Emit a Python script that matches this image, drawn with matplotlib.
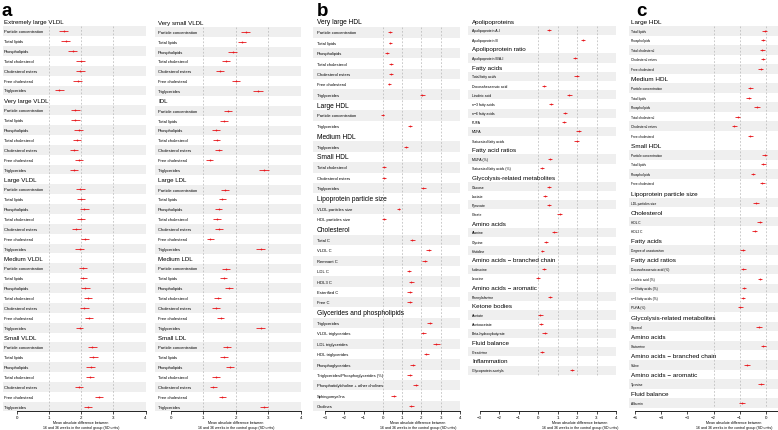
import matplotlib
matplotlib.use("Agg")
import matplotlib.pyplot as plt

plt.rcParams["font.family"] = ["Liberation Sans", "DejaVu Sans"]

# --- data (mean absolute difference, SD units; err = half CI width) ---
lipid_rows = ["Particle concentration", "Total lipids", "Phospholipids", "Total cholesterol",
              "Cholesterol esters", "Free cholesterol", "Triglycerides"]

# panel a, left column
a1_groups = ["Extremely large VLDL", "Very large VLDL", "Large VLDL", "Medium VLDL", "Small VLDL"]
a1_sizes = [7, 7, 7, 7, 7]
a1_rows = lipid_rows * 5
a1_mean = [1.46, 1.52, 1.74, 1.99, 1.97, 1.89, 1.32,
           1.82, 1.82, 1.92, 1.88, 1.78, 1.94, 1.77,
           1.97, 1.99, 2.10, 2.00, 1.85, 2.12, 1.95,
           2.05, 2.07, 2.13, 2.22, 2.10, 2.25, 1.95,
           2.34, 2.38, 2.30, 2.27, 1.94, 2.56, 2.20]
a1_err = [0.14, 0.14, 0.14, 0.14, 0.14, 0.13, 0.14,
          0.14, 0.13, 0.14, 0.12, 0.13, 0.13, 0.13,
          0.14, 0.13, 0.13, 0.13, 0.13, 0.13, 0.13,
          0.12, 0.11, 0.13, 0.13, 0.13, 0.13, 0.12,
          0.14, 0.14, 0.14, 0.12, 0.12, 0.13, 0.12]

# panel a, right column
a2_groups = ["Very small VLDL", "IDL", "Large LDL", "Medium LDL", "Small LDL"]
a2_sizes = [7, 7, 7, 7, 7]
a2_rows = lipid_rows * 5
a2_mean = [2.30, 2.18, 1.90, 1.71, 1.51, 2.00, 2.68,
           1.76, 1.64, 1.38, 1.41, 1.48, 1.20, 2.87,
           1.68, 1.59, 1.47, 1.42, 1.48, 1.22, 2.77,
           1.69, 1.63, 1.80, 1.44, 1.39, 1.53, 2.77,
           1.73, 1.64, 1.83, 1.39, 1.31, 1.59, 2.87]
a2_err = [0.13, 0.12, 0.13, 0.12, 0.12, 0.12, 0.15,
          0.12, 0.12, 0.12, 0.11, 0.11, 0.10, 0.15,
          0.12, 0.12, 0.12, 0.12, 0.12, 0.10, 0.14,
          0.12, 0.11, 0.12, 0.11, 0.11, 0.11, 0.14,
          0.12, 0.12, 0.12, 0.11, 0.11, 0.11, 0.13]

# panel b, left column
b1_groups = ["Very large HDL", "Large HDL", "Medium HDL", "Small HDL",
             "Lipoprotein particle size", "Cholesterol", "Glycerides and phospholipids"]
b1_sizes = [7, 2, 1, 3, 2, 7, 9]
b1_rows = lipid_rows + [
    "Particle concentration", "Triglycerides",
    "Triglycerides",
    "Total cholesterol", "Cholesterol esters", "Triglycerides",
    "VLDL particles size", "HDL particles size",
    "Total C", "VLDL C", "Remnant C", "LDL C", "HDL3 C", "Esterified C", "Free C",
    "Triglycerides", "VLDL triglycerides", "LDL triglycerides", "HDL triglycerides",
    "Phosphoglycerides", "Triglycerides/Phosphoglycerides (%)",
    "Phosphatidylcholine + other cholines", "Sphingomyelins", "Cholines"]
b1_mean = [0.38, 0.38, 0.21, 0.41, 0.43, 0.34, 2.05,
           -0.02, 1.40,
           1.19,
           0.05, 0.05, 2.10,
           0.81, 0.07,
           1.52, 2.38, 2.16, 1.36, 1.48, 1.38, 1.38,
           2.43, 2.09, 2.78, 2.26, 1.55, 1.38, 1.71, 0.55, 1.48]
b1_err = [0.10, 0.09, 0.09, 0.10, 0.10, 0.10, 0.12,
          0.09, 0.12,
          0.12,
          0.12, 0.10, 0.13,
          0.10, 0.10,
          0.13, 0.13, 0.13, 0.12, 0.12, 0.12, 0.14,
          0.14, 0.12, 0.16, 0.13, 0.13, 0.12, 0.13, 0.13, 0.14]

# panel b, right column
b2_groups = ["Apolipoproteins", "Apolipoprotein ratio", "Fatty acids", "Fatty acid ratios",
             "Glycolysis-related metabolites", "Amino acids", "Amino acids \u2212 branched chain",
             "Amino acids \u2212 aromatic", "Ketone bodies", "Fluid balance", "Inflammation"]
b2_sizes = [2, 1, 8, 2, 4, 3, 2, 1, 3, 1, 1]
b2_rows = ["Apolipoprotein A-I", "Apolipoprotein B",
           "Apolipoprotein B/A-I",
           "Total fatty acids", "Docosahexaenoic acid", "Linoleic acid", "n\u22123 fatty acids",
           "n\u22126 fatty acids", "PUFA", "MUFA", "Saturated fatty acids",
           "MUFA (%)", "Saturated fatty acids (%)",
           "Glucose", "Lactate", "Pyruvate", "Citrate",
           "Alanine", "Glycine", "Histidine",
           "Isoleucine", "Leucine",
           "Phenylalanine",
           "Acetate", "Acetoacetate", "Beta-hydroxybutyrate",
           "Creatinine",
           "Glycoprotein acetyls"]
b2_mean = [0.58, 2.29,
           1.90,
           1.98, 0.31, 1.61, 0.68, 1.40, 1.32, 2.09, 1.98,
           0.62, 0.19,
           0.56, 0.38, 0.58, 1.11,
           0.84, 0.39, 0.22,
           0.32, 0.00,
           0.60,
           0.12, 0.15, 0.34,
           0.19,
           1.74]
b2_err = [0.11, 0.11,
          0.12,
          0.13, 0.11, 0.12, 0.11, 0.11, 0.11, 0.12, 0.12,
          0.10, 0.11,
          0.12, 0.10, 0.11, 0.12,
          0.11, 0.10, 0.09,
          0.10, 0.08,
          0.11,
          0.12, 0.10, 0.11,
          0.10,
          0.12]

# panel c
c_groups = ["Large HDL", "Medium HDL", "Small HDL", "Lipoprotein particle size", "Cholesterol",
            "Fatty acids", "Fatty acid ratios", "Glycolysis-related metabolites", "Amino acids",
            "Amino acids \u2212 branched chain", "Amino acids \u2212 aromatic", "Fluid balance"]
c_sizes = [5, 6, 4, 1, 2, 1, 5, 1, 1, 1, 1, 1]
c_rows = ["Total lipids", "Phospholipids", "Total cholesterol", "Cholesterol esters", "Free cholesterol",
          "Particle concentration", "Total lipids", "Phospholipids", "Total cholesterol",
          "Cholesterol esters", "Free cholesterol",
          "Particle concentration", "Total lipids", "Phospholipids", "Free cholesterol",
          "LDL particles size",
          "HDL C", "HDL2 C",
          "Degree of unsaturation",
          "Docosahexaenoic acid (%)", "Linoleic acid (%)", "n\u22123 fatty acids (%)",
          "n\u22126 fatty acids (%)", "PUFA (%)",
          "Glycerol", "Glutamine", "Valine", "Tyrosine", "Albumin"]
c_mean = [-0.04, -0.11, -0.13, -0.11, -0.19,
          -0.59, -0.65, -0.34, -1.07, -1.20, -0.59,
          -0.04, -0.10, -0.49, -0.14,
          -0.38,
          -0.24, -0.42,
          -0.89,
          -0.86, -0.22, -0.84, -0.87, -0.98,
          -0.26, -0.10, -0.72, -0.18, -0.91]
c_err = [0.10, 0.09, 0.09, 0.09, 0.10,
         0.10, 0.10, 0.10, 0.10, 0.11, 0.10,
         0.09, 0.09, 0.09, 0.10,
         0.10,
         0.10, 0.10,
         0.10,
         0.09, 0.09, 0.09, 0.08, 0.09,
         0.10, 0.10, 0.10, 0.11, 0.11]

XLABEL = "Mean absolute difference between\n16 and 36 weeks in the control group (SD units)"

# --- layout (pixels in a 778x431 figure) ---
W, H = 778, 431
AXIS_Y = 412
SHADE = "#EFEFEF"


def draw_column(fig, groups, sizes, rows, mean, err, left, right, xlim, y0, step,
                ticks, grid, label_x, head_fs, row_fs, xlabel_px, spine_end=None):
    top = y0 - step / 2
    ax = fig.add_axes([left / W, 1 - AXIS_Y / H, (right - left) / W, (AXIS_Y - top) / H])
    ax.set_xlim(xlim)
    ax.set_ylim((AXIS_Y - y0) / step, -0.5)

    line = 0
    k = 0
    for g, n in zip(groups, sizes):
        ax.text(label_x, line, g, fontsize=head_fs, va="center", ha="left")
        line += 1
        for j in range(n):
            if j % 2 == 0:
                ax.axhspan(line - 0.5, line + 0.5, color=SHADE, lw=0, zorder=0)
            ax.text(label_x, line, rows[k], fontsize=row_fs, va="center", ha="left")
            ax.errorbar(mean[k], line, xerr=err[k], fmt="o", color="#E8161B", ms=1.3,
                        mew=0, elinewidth=0.6, capsize=0, zorder=3)
            line += 1
            k += 1

    for x in grid:
        ax.vlines(x, 0.5, line - 0.5, colors="#B5B5B5", linestyles=(0, (2.5, 2.5)),
                  lw=0.5, zorder=1)

    for s in ["left", "right", "top"]:
        ax.spines[s].set_visible(False)
    ax.spines["bottom"].set_linewidth(0.6)
    ax.spines["bottom"].set_bounds(ticks[0], spine_end if spine_end is not None else ticks[-1])
    ax.set_yticks([])
    ax.set_xticks(ticks)
    ax.set_xticklabels([str(t).replace("-", "\u2212") for t in ticks])
    ax.tick_params(axis="x", length=2, width=0.5, pad=1, labelsize=3.2)

    fig.text(xlabel_px / W, 1 - 421 / H, XLABEL, fontsize=2.6, ha="center", va="top",
             linespacing=1.3)
    return ax


fig = plt.figure(figsize=(W / 100, H / 100), dpi=100)

draw_column(fig, a1_groups, a1_sizes, a1_rows, a1_mean, a1_err,
            3, 146, (-0.425, 4.01), 22.3, 9.88, [0, 1, 2, 3, 4], [1, 2, 3],
            -0.39, 4.4, 3.0, 81)
draw_column(fig, a2_groups, a2_sizes, a2_rows, a2_mean, a2_err,
            155, 301, (-0.48, 4.0), 23.0, 9.86, [0, 1, 2, 3, 4], [1, 2, 3],
            -0.39, 4.4, 3.0, 236)
draw_column(fig, b1_groups, b1_sizes, b1_rows, b1_mean, b1_err,
            313, 460, (-3.63, 3.99), 23.0, 10.38, [-3, -2, -1, 0, 1, 2, 3, 4], [0, 1, 2, 3],
            -3.42, 4.8, 3.0, 418)
draw_column(fig, b2_groups, b2_sizes, b2_rows, b2_mean, b2_err,
            468, 616, (-3.59, 4.0), 22.3, 9.18, [-3, -2, -1, 0, 1, 2, 3, 4], [0, 1, 2, 3],
            -3.38, 4.5, 2.5, 580)
draw_column(fig, c_groups, c_sizes, c_rows, c_mean, c_err,
            629, 792, (-5.23, 1.0), 22.3, 9.54, [-5, -4, -3, -2, -1, 0], [-2, -1, 0],
            -5.15, 4.6, 2.3, 734, spine_end=1.0)

for letter, px in [("a", 1), ("b", 317), ("c", 636)]:
    fig.text(px / W, 1 - 16 / H, letter, fontsize=13.5, fontweight="bold",
             ha="left", va="baseline")

fig.savefig("out.png", dpi=100)
